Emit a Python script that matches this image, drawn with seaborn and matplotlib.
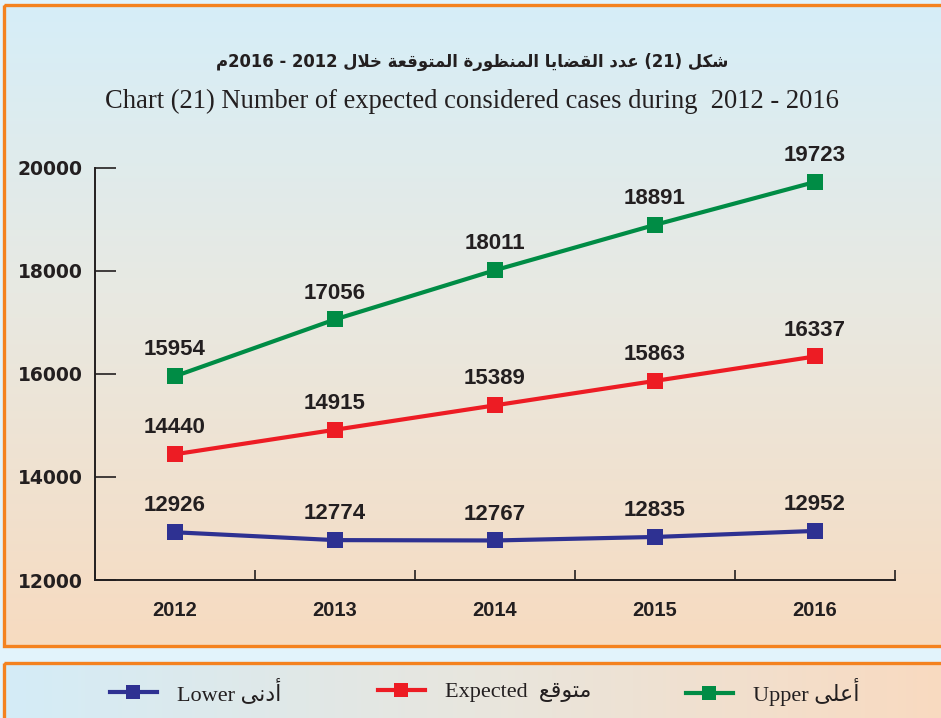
import re
import numpy as np
import pandas as pd
import matplotlib
matplotlib.use("Agg")
import matplotlib.pyplot as plt
from matplotlib.colors import LinearSegmentedColormap
from matplotlib.patches import Rectangle
from matplotlib.lines import Line2D
import seaborn as sns

# ---------------- data ----------------
years = [2012, 2013, 2014, 2015, 2016]
lower = [12926, 12774, 12767, 12835, 12952]
expected = [14440, 14915, 15389, 15863, 16337]
upper = [15954, 17056, 18011, 18891, 19723]
series_en = ["Lower", "Expected", "Upper"]
series_ar = ["أدنى", "متوقع", "أعلى"]
colors = ["#2e3192", "#ed1c24", "#008c45"]
y_ticks = [12000, 14000, 16000, 18000, 20000]
title_ar = "شكل (21) عدد القضايا المنظورة المتوقعة خلال 2012 - 2016م"
title_en = "Chart (21) Number of expected considered cases during  2012 - 2016"

# ------------- minimal Arabic shaping (presentation forms + visual order) -------------
FORMS = {
    '\u0627': ('\uFE8D', '\uFE8E', None, None),
    '\u0623': ('\uFE83', '\uFE84', None, None),
    '\u0629': ('\uFE93', '\uFE94', None, None),
    '\u062A': ('\uFE95', '\uFE96', '\uFE97', '\uFE98'),
    '\u062E': ('\uFEA5', '\uFEA6', '\uFEA7', '\uFEA8'),
    '\u062F': ('\uFEA9', '\uFEAA', None, None),
    '\u0631': ('\uFEAD', '\uFEAE', None, None),
    '\u0634': ('\uFEB5', '\uFEB6', '\uFEB7', '\uFEB8'),
    '\u0636': ('\uFEBD', '\uFEBE', '\uFEBF', '\uFEC0'),
    '\u0638': ('\uFEC5', '\uFEC6', '\uFEC7', '\uFEC8'),
    '\u0639': ('\uFEC9', '\uFECA', '\uFECB', '\uFECC'),
    '\u0642': ('\uFED5', '\uFED6', '\uFED7', '\uFED8'),
    '\u0643': ('\uFED9', '\uFEDA', '\uFEDB', '\uFEDC'),
    '\u0644': ('\uFEDD', '\uFEDE', '\uFEDF', '\uFEE0'),
    '\u0645': ('\uFEE1', '\uFEE2', '\uFEE3', '\uFEE4'),
    '\u0646': ('\uFEE5', '\uFEE6', '\uFEE7', '\uFEE8'),
    '\u0648': ('\uFEED', '\uFEEE', None, None),
    '\u0649': ('\uFEEF', '\uFEF0', '\uFBE8', '\uFBE9'),
    '\u064A': ('\uFEF1', '\uFEF2', '\uFEF3', '\uFEF4'),
}
LAM_ALEF = {'\u0627': ('\uFEFB', '\uFEFC'), '\u0623': ('\uFEF7', '\uFEF8')}


def ar(text):
    units = []
    i = 0
    while i < len(text):
        c = text[i]
        if c == '\u0644' and i + 1 < len(text) and text[i + 1] in LAM_ALEF:
            iso, fin = LAM_ALEF[text[i + 1]]
            units.append(('LA', (iso, fin, None, None)))
            i += 2
        else:
            units.append((c, FORMS.get(c)))
            i += 1
    out = []
    for k, (c, f) in enumerate(units):
        if f is None:
            out.append(c)
            continue
        prev = units[k - 1][1] if k > 0 else None
        nxt = units[k + 1][1] if k + 1 < len(units) else None
        jp = prev is not None and prev[2] is not None
        jn = f[2] is not None and nxt is not None
        out.append(f[3] if (jp and jn) else f[1] if jp else f[2] if jn else f[0])
    tokens = re.findall(r'\d+|.', ''.join(out))[::-1]
    swap = {'(': ')', ')': '('}
    return ''.join(swap.get(t, t) for t in tokens)


# ---------------- figure ----------------
W, H = 941, 718
fig = plt.figure(figsize=(W / 100, H / 100), dpi=100)
fig.patch.set_facecolor("#e2f3fb")

bg = fig.add_axes([0, 0, 1, 1], zorder=0)
bg.set_xlim(0, W)
bg.set_ylim(H, 0)
bg.axis("off")

cm_v = LinearSegmentedColormap.from_list(
    "v", [(0, (214/255, 238/255, 248/255)), (0.45, (232/255, 233/255, 226/255)),
          (1, (247/255, 219/255, 192/255))])
bg.imshow(np.linspace(0, 1, 256).reshape(-1, 1), cmap=cm_v, aspect="auto",
          extent=[4, W + 5, 646, 5], zorder=0)
cm_h = LinearSegmentedColormap.from_list(
    "h", [(0, (212/255, 236/255, 247/255)), (0.5, (232/255, 230/255, 222/255)),
          (1, (249/255, 218/255, 192/255))])
bg.imshow(np.linspace(0, 1, 256).reshape(1, -1), cmap=cm_h, aspect="auto",
          extent=[4, W + 5, H + 5, 663], zorder=0)
orange = "#f4821f"
bg.add_patch(Rectangle((4, 5), W + 20, 641, fill=False, ec=orange, lw=2.4, zorder=2))
bg.add_patch(Rectangle((4, 663), W + 20, 80, fill=False, ec=orange, lw=2.4, zorder=2))

bg.text(472, 62, ar(title_ar), ha="center", va="center", fontsize=11.9,
        fontweight="bold", family=["DejaVu Sans"], color="#231f20")
bg.text(472, 101, title_en, ha="center", va="center", fontsize=19.1,
        family=["Liberation Serif"], color="#231f20")

# ---------------- main plot ----------------
ax = fig.add_axes([95 / W, 1 - 580 / H, 800 / W, (580 - 167.7) / H], zorder=3)
ax.set_facecolor("none")

df = pd.concat([
    pd.DataFrame({"Year": years, "Cases": vals, "Series": name})
    for name, vals in zip(series_en, [lower, expected, upper])
])
sns.lineplot(data=df, x="Year", y="Cases", hue="Series", hue_order=series_en,
             palette=colors, marker="s", markersize=11, markeredgewidth=0,
             linewidth=3, legend=False, ax=ax)

for vals in [lower, expected, upper]:
    for x, v in zip(years, vals):
        ax.annotate(f"{v}", (x, v), xytext=(0, 19), textcoords="offset points",
                    ha="center", va="center", fontsize=16, fontweight="bold",
                    family=["Liberation Sans"], color="#231f20")

ax.set_xlim(years[0] - 0.5, years[-1] + 0.5)
ax.set_ylim(y_ticks[0], y_ticks[-1])
ax.set_yticks(y_ticks)
ax.set_yticklabels([str(t) for t in y_ticks], fontsize=13.5, fontweight="bold",
                   family=["DejaVu Sans"], color="#231f20")
ax.set_xticks([y - 0.5 for y in years] + [years[-1] + 0.5])
ax.set_xticklabels([])
ax.set_xticks(years, minor=True)
ax.set_xticklabels([str(y) for y in years], minor=True, fontsize=14.5,
                   fontweight="bold", family=["Liberation Sans"], color="#231f20")
ax.tick_params(axis="y", direction="in", length=15, width=1.2, pad=9, color="#231f20")
ax.tick_params(axis="x", which="major", direction="in", length=7, width=1.2, color="#231f20")
ax.tick_params(axis="x", which="minor", length=0, pad=15)
for s in ["top", "right"]:
    ax.spines[s].set_visible(False)
for s in ["left", "bottom"]:
    ax.spines[s].set_color("#231f20")
    ax.spines[s].set_linewidth(1.4)
ax.set_xlabel("")
ax.set_ylabel("")
ax.grid(False)

# ---------------- legend ----------------
leg_x = [110, 378, 686]
for en, a, c, x0 in zip(series_en, series_ar, colors, leg_x):
    h = Line2D([], [], color=c, marker="s", markersize=10, markeredgewidth=0, lw=3)
    sep = "  " if en == "Expected" else " "
    lg = fig.legend(handles=[h], labels=[en + sep + ar(a)], loc="center left",
                    bbox_to_anchor=(x0 / W, 1 - 692 / H), frameon=False,
                    borderpad=0, borderaxespad=0, handlelength=2.1, handletextpad=0.9,
                    prop={"family": ["Liberation Serif", "DejaVu Sans"], "size": 16})
    for t in lg.get_texts():
        t.set_color("#231f20")

fig.savefig("out.png", dpi=100)
